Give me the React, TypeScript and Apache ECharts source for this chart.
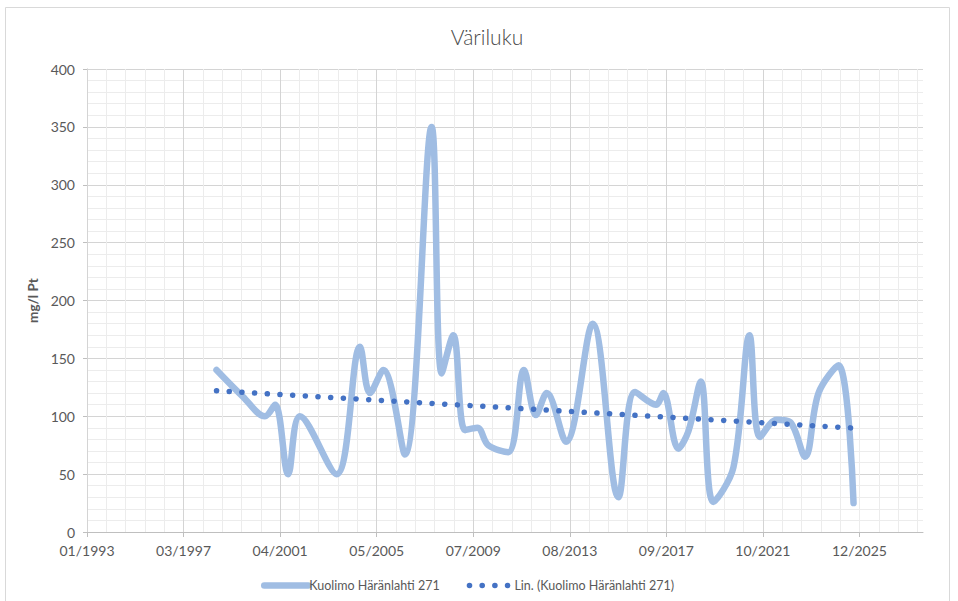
import React, { useEffect, useRef } from 'react';
import * as echarts from 'echarts';

// ---- data ----
const sampleDates = [
  '1998-07-27', '1999-09-09', '2000-08-18', '2001-01-22', '2001-08-14', '2002-02-13',
  '2003-09-05', '2004-09-04', '2005-02-06', '2005-09-02', '2006-08-03', '2007-09-23',
  '2008-02-27', '2008-08-25', '2009-02-24', '2009-09-02', '2010-02-20', '2010-12-27',
  '2011-08-29', '2012-03-02', '2012-08-17', '2013-06-13', '2014-08-03', '2015-09-05',
  '2016-05-21', '2017-04-12', '2017-08-03', '2018-03-25', '2018-08-29', '2019-03-10',
  '2019-09-20', '2020-07-30', '2021-04-05', '2021-09-16', '2022-06-02', '2022-12-27',
  '2023-08-18', '2024-03-13', '2025-01-18', '2025-09-09',
];
const colourValues = [
  140, 117, 100, 110, 50, 100,
  50, 160, 120, 140, 67, 350,
  137, 170, 88, 90, 75, 69,
  140, 101, 120, 78, 180, 30,
  121, 110, 120, 72, 87, 130,
  26, 56, 170, 82, 97, 95,
  65, 120, 144, 25,
];
const trendDates = ['1998-07-27', '2025-09-09'];
const trendValues = [122, 89.8];
const xTickLabels = ['01/1993', '03/1997', '04/2001', '05/2005', '07/2009', '08/2013', '09/2017', '10/2021', '12/2025'];
const yTickValues = [0, 50, 100, 150, 200, 250, 300, 350, 400];

const seriesName = 'Kuolimo Häränlahti 271';
const trendName = 'Lin. (Kuolimo Häränlahti 271)';

// ---- axis setup (Excel-like date axis) ----
const BASE = Date.UTC(1993, 0, 20);
const DAY = 86400000;
const MAJOR = 1501.5; // days per major unit
const X_MAX = 13000;
const toDays = (d: string) => (Date.parse(d) - BASE) / DAY;

const FONT = 'Lato';
const TEXT = '#595959';

export default function App() {
  const ref = useRef<HTMLDivElement>(null);
  useEffect(() => {
    if (!ref.current) return;
    const chart = echarts.init(ref.current, undefined, { renderer: 'svg' });
    const majorValues = xTickLabels.map((_, i) => i * MAJOR);
    chart.setOption({
      animation: false,
      backgroundColor: '#ffffff',
      title: {
        text: 'Väriluku',
        left: 482,
        top: 21,
        textAlign: 'center',
        textStyle: { fontFamily: FONT, fontSize: 21, fontWeight: 300, color: '#4a4a4a' },
      },
      graphic: [
        {
          type: 'rect',
          silent: true,
          z: -10,
          shape: { x: 5.5, y: 7.5, width: 944, height: 610 },
          style: { fill: 'none', stroke: '#d9d9d9', lineWidth: 1 },
        },
      ],
      legend: {
        left: 256,
        top: 574,
        itemWidth: 44,
        itemHeight: 14,
        itemGap: 27,
        itemStyle: { opacity: 0 },
        lineStyle: { width: 'inherit' },
        textStyle: { fontFamily: FONT, fontSize: 12.5, color: TEXT, padding: [0, 0, 0, -4] },
        data: [seriesName, trendName],
      },
      grid: { left: 87, right: 35, top: 69, bottom: 69, containLabel: false },
      xAxis: [
        {
          type: 'value',
          min: 0,
          max: X_MAX,
          interval: MAJOR,
          z: 2,
          axisLine: { show: true, lineStyle: { color: '#bfbfbf', width: 1 } },
          axisTick: {
            show: true,
            length: 5,
            customValues: majorValues,
            lineStyle: { color: '#bfbfbf' },
          },
          axisLabel: {
            customValues: majorValues,
            margin: 11,
            fontFamily: FONT,
            fontSize: 14,
            color: TEXT,
            formatter: (v: number) => xTickLabels[Math.round(v / MAJOR)] ?? '',
          },
          splitLine: { show: true, showMaxLine: false, lineStyle: { color: '#d4d4d4', width: 1 } },
        },
        {
          type: 'value',
          min: 0,
          max: X_MAX,
          interval: MAJOR / 5,
          z: 0,
          axisLine: { show: false },
          axisTick: { show: false },
          axisLabel: { show: false },
          splitLine: { show: true, showMaxLine: false, lineStyle: { color: '#ececec', width: 1 } },
        },
      ],
      yAxis: {
        type: 'value',
        min: yTickValues[0],
        max: yTickValues[yTickValues.length - 1],
        interval: 50,
        name: 'mg/l Pt',
        nameLocation: 'middle',
        nameGap: 44,
        nameRotate: 90,
        nameTextStyle: { fontFamily: FONT, fontSize: 13.5, fontWeight: 'bold', color: TEXT },
        axisLine: { show: true, lineStyle: { color: '#bfbfbf', width: 1 } },
        axisTick: { show: true, length: 4, lineStyle: { color: '#bfbfbf' } },
        axisLabel: { margin: 12, fontFamily: FONT, fontSize: 14, color: TEXT },
        splitLine: { show: true, lineStyle: { color: '#d4d4d4', width: 1 } },
        minorTick: { show: false, splitNumber: 5 },
        minorSplitLine: { show: true, lineStyle: { color: '#ececec', width: 1 } },
      },
      series: [
        {
          name: seriesName,
          type: 'line',
          xAxisIndex: 0,
          smooth: 0.35,
          symbol: 'none',
          z: 3,
          lineStyle: { color: '#a0bde3', width: 6.5, cap: 'round', join: 'round' },
          itemStyle: { color: '#a0bde3' },
          data: sampleDates.map((d, i) => [toDays(d), colourValues[i]]),
        },
        {
          name: trendName,
          type: 'line',
          xAxisIndex: 0,
          symbol: 'none',
          z: 4,
          lineStyle: { color: '#4472c4', width: 5.5, type: [0.1, 12.6], cap: 'round' },
          itemStyle: { color: '#4472c4' },
          data: trendDates.map((d, i) => [toDays(d), trendValues[i]]),
        },
      ],
    });
    return () => chart.dispose();
  }, []);
  return (
    <div
      ref={ref}
      style={{ position: 'fixed', left: 0, top: 0, width: 958, height: 601, background: '#fff' }}
    />
  );
}
